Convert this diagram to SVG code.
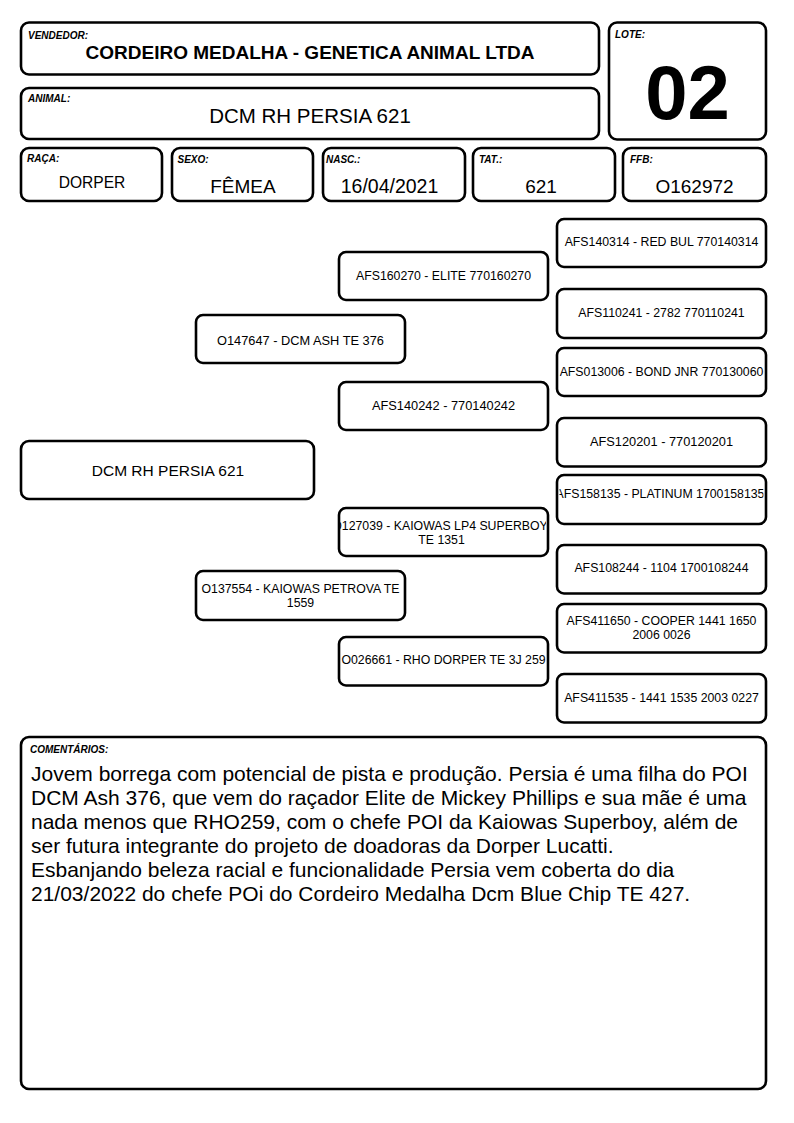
<svg xmlns="http://www.w3.org/2000/svg" width="794" height="1123" viewBox="0 0 794 1123">
<style>
.box{fill:#fff;stroke:#000;stroke-width:2.6}
.lbl{font-family:"Liberation Sans",Arial,sans-serif;font-size:10px;font-weight:bold;font-style:italic;fill:#000}
.val{font-family:"Liberation Sans",Arial,sans-serif;fill:#000;text-anchor:middle}
.ped{font-family:"Liberation Sans",Arial,sans-serif;font-size:12.3px;fill:#000;text-anchor:middle}
.big{font-size:12.8px}
.cmt{font-family:"Liberation Sans",Arial,sans-serif;font-size:21px;fill:#000}
</style>
<defs>
<clipPath id="c5"><rect x="559.5" y="348" width="204.5" height="48"/></clipPath>
<clipPath id="c9"><rect x="559.5" y="475" width="204" height="49"/></clipPath>
<clipPath id="c10"><rect x="340" y="508" width="206" height="48"/></clipPath>
</defs>
<rect width="794" height="1123" fill="#fff"/>

<g id="vendedor">
<rect class="box" x="21" y="22.5" width="578" height="52" rx="8"/>
<text class="lbl" x="28" y="39">VENDEDOR:</text>
<text class="val" x="310" y="59.3" font-size="19" font-weight="bold">CORDEIRO MEDALHA - GENETICA ANIMAL LTDA</text>
</g>
<g id="animal">
<rect class="box" x="21" y="88" width="578" height="51" rx="8"/>
<text class="lbl" x="28" y="102.3">ANIMAL:</text>
<text class="val" x="310" y="123.3" font-size="20.5">DCM RH PERSIA 621</text>
</g>
<g id="lote">
<rect class="box" x="609" y="22.5" width="157" height="117" rx="8"/>
<text class="lbl" x="615" y="38.3">LOTE:</text>
<text class="val" x="687.5" y="119" font-size="76" font-weight="bold">02</text>
</g>
<g id="raca">
<rect class="box" x="21" y="148" width="141" height="53" rx="8"/>
<text class="lbl" x="27" y="162.3">RAÇA:</text>
<text class="val" x="92" y="188" font-size="15.6">DORPER</text>
</g>
<g id="sexo">
<rect class="box" x="172" y="148" width="141" height="53" rx="8"/>
<text class="lbl" x="177.5" y="163">SEXO:</text>
<text class="val" x="243" y="193" font-size="19">FÊMEA</text>
</g>
<g id="nasc">
<rect class="box" x="323" y="148" width="142" height="53" rx="8"/>
<text class="lbl" x="326" y="163">NASC.:</text>
<text class="val" x="389.5" y="192.5" font-size="19.5">16/04/2021</text>
</g>
<g id="tat">
<rect class="box" x="473" y="148" width="142" height="53" rx="8"/>
<text class="lbl" x="479" y="163.3">TAT.:</text>
<text class="val" x="541" y="192.5" font-size="19">621</text>
</g>
<g id="ffb">
<rect class="box" x="623" y="148" width="143" height="53" rx="8"/>
<text class="lbl" x="630" y="163.3">FFB:</text>
<text class="val" x="694.5" y="192.5" font-size="19">O162972</text>
</g>

<g id="p1">
<rect class="box" x="557" y="219" width="209" height="48" rx="7"/>
<text class="ped" x="661.5" y="246">AFS140314 - RED BUL 770140314</text>
</g>
<g id="p2">
<rect class="box" x="339" y="252" width="209" height="48" rx="7"/>
<text class="ped" x="443.5" y="280">AFS160270 - ELITE 770160270</text>
</g>
<g id="p3">
<rect class="box" x="557" y="289" width="209" height="49" rx="7"/>
<text class="ped" x="661.5" y="317.3">AFS110241 - 2782 770110241</text>
</g>
<g id="p4">
<rect class="box" x="196" y="315" width="209" height="48" rx="7"/>
<text class="ped big" x="300.5" y="344.8">O147647 - DCM ASH TE 376</text>
</g>
<g id="p5">
<rect class="box" x="557" y="348" width="209" height="48" rx="7"/>
<text class="ped" x="661.5" y="375.8" font-size="12" clip-path="url(#c5)">AFS013006 - BOND JNR 770130060</text>
</g>
<g id="p6">
<rect class="box" x="339" y="382" width="209" height="48" rx="7"/>
<text class="ped big" x="443.5" y="409.5">AFS140242 - 770140242</text>
</g>
<g id="p7">
<rect class="box" x="557" y="418" width="209" height="48.5" rx="7"/>
<text class="ped big" x="661.5" y="445.5">AFS120201 - 770120201</text>
</g>
<g id="root">
<rect class="box" x="21" y="441" width="293" height="58" rx="8"/>
<text class="val" x="168" y="476" font-size="15.5">DCM RH PERSIA 621</text>
</g>
<g id="p9">
<rect class="box" x="557" y="475" width="209" height="49" rx="7"/>
<text class="ped" x="660" y="497.7" font-size="12" clip-path="url(#c9)">AFS158135 - PLATINUM 1700158135</text>
</g>
<g id="p10">
<rect class="box" x="339" y="508" width="209" height="48" rx="7"/>
<g clip-path="url(#c10)">
<text class="ped" x="440" y="530" font-size="12">O127039 - KAIOWAS LP4 SUPERBOY</text>
<text class="ped" x="441.5" y="544" font-size="12">TE 1351</text>
</g>
</g>
<g id="p11">
<rect class="box" x="557" y="545" width="209" height="48.5" rx="7"/>
<text class="ped" x="661.5" y="571.7">AFS108244 - 1104 1700108244</text>
</g>
<g id="p12">
<rect class="box" x="196" y="571" width="209" height="49" rx="7"/>
<text class="ped" x="300.5" y="592.5">O137554 - KAIOWAS PETROVA TE</text>
<text class="ped" x="300.5" y="606.7">1559</text>
</g>
<g id="p13">
<rect class="box" x="557" y="604" width="209" height="48.5" rx="7"/>
<text class="ped" x="661.5" y="624.5">AFS411650 - COOPER 1441 1650</text>
<text class="ped" x="661.5" y="639">2006 0026</text>
</g>
<g id="p14">
<rect class="box" x="339" y="637" width="209" height="48.5" rx="7"/>
<text class="ped" x="443.5" y="664">O026661 - RHO DORPER TE 3J 259</text>
</g>
<g id="p15">
<rect class="box" x="557" y="674" width="209" height="48.5" rx="7"/>
<text class="ped" x="661.5" y="701.7">AFS411535 - 1441 1535 2003 0227</text>
</g>

<g id="comentarios">
<rect class="box" x="21" y="737" width="745" height="352" rx="8"/>
<text class="lbl" x="30" y="752.7">COMENTÁRIOS:</text>
<text class="cmt">
<tspan x="31" y="780.7">Jovem borrega com potencial de pista e produção. Persia é uma filha do POI</tspan>
<tspan x="31" y="804.7">DCM Ash 376, que vem do raçador Elite de Mickey Phillips e sua mãe é uma</tspan>
<tspan x="31" y="828.7">nada menos que RHO259, com o chefe POI da Kaiowas Superboy, além de</tspan>
<tspan x="31" y="852.7">ser futura integrante do projeto de doadoras da Dorper Lucatti.</tspan>
<tspan x="31" y="876.7">Esbanjando beleza racial e funcionalidade Persia vem coberta do dia</tspan>
<tspan x="31" y="900.7">21/03/2022 do chefe POi do Cordeiro Medalha Dcm Blue Chip TE 427.</tspan>
</text>
</g>
</svg>
